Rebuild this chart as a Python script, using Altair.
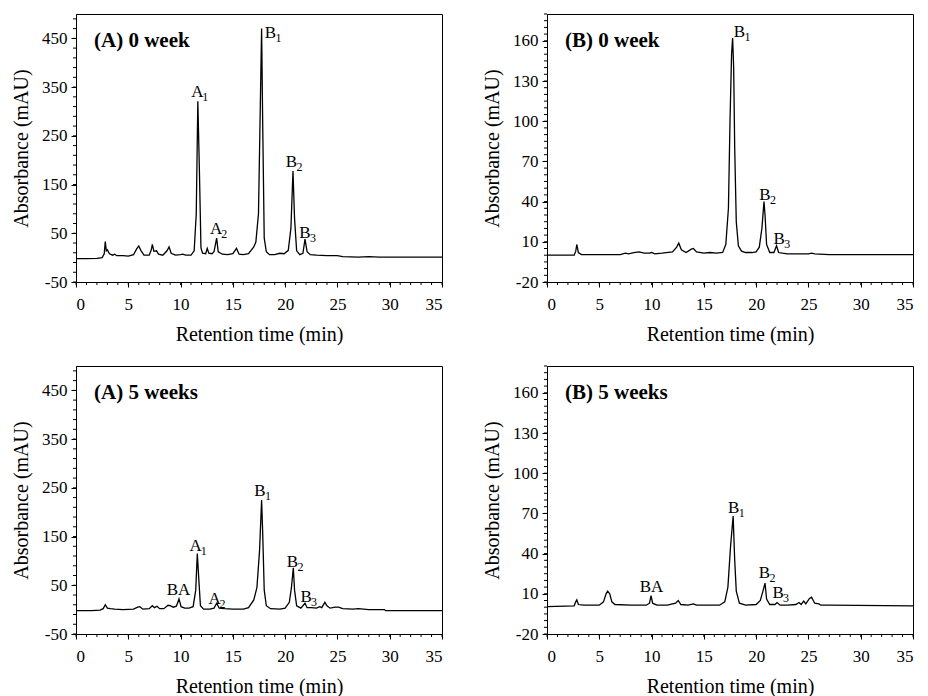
import altair as alt
import pandas as pd

# ---------------- data ----------------
a0_time = [0.0, 1.0, 2.0, 2.5, 2.7, 2.8, 2.9, 3.0, 3.2, 3.5, 3.7, 3.9, 4.5, 5.0, 5.5, 5.8, 6.0, 6.2, 6.5,
           7.0, 7.2, 7.3, 7.45, 7.7, 7.9, 8.3, 8.7, 8.9, 9.1, 9.5, 10.0, 10.2, 10.5, 11.0, 11.3, 11.5,
           11.65, 11.8, 11.95, 12.1, 12.4, 12.55, 12.7, 13.0, 13.2, 13.45, 13.6, 14.0, 14.5, 15.0, 15.35,
           15.6, 16.0, 16.5, 17.0, 17.2, 17.45, 17.6, 17.75, 17.85, 18.0, 18.2, 18.5, 19.0, 19.5, 19.9,
           20.3, 20.55, 20.75, 20.9, 21.1, 21.4, 21.7, 21.9, 22.1, 22.4, 23.0, 24.0, 25.0, 25.5, 27.0,
           28.0, 29.0, 31.0, 35.0]
a0_abs = [-2, -2, -1.5, 0, 8, 33, 14, 16, 8, 5, 7, 4, 4, 3, 6, 18, 24, 15, 5,
          5, 16, 27, 13, 14, 7, 5, 14, 22, 9, 5, 6, 7, 5, 5, 14, 90,
          321, 180, 20, 9, 8, 19, 9, 8, 12, 40, 12, 7, 6, 8, 19,
          7, 6, 8, 22, 32, 90, 280, 470, 280, 40, 12, 6, 6, 9, 8,
          15, 60, 178, 80, 14, 6, 9, 38, 12, 6, 5, 4, 4, 2, 1,
          2, 1, 1, 1]

b0_time = [0.0, 2.6, 2.75, 2.85, 3.0, 3.3, 5.0, 7.0, 7.5, 7.8, 8.3, 8.8, 9.3, 9.8, 10.0, 10.3, 11.0,
           12.0, 12.4, 12.6, 12.85, 13.3, 13.8, 14.0, 14.3, 15.0, 15.6, 16.2, 16.8, 17.1, 17.35, 17.5,
           17.65, 17.75, 17.85, 17.95, 18.1, 18.3, 18.6, 19.0, 19.6, 20.0, 20.3, 20.55, 20.75, 20.85,
           21.0, 21.3, 21.7, 21.95, 22.15, 22.5, 23.0, 24.0, 25.0, 25.3, 25.6, 27.0, 35.0]
b0_abs = [0, 0, 3, 8, 2, 0.5, 0.5, 0.5, 1.5, 1, 2, 2.5, 1.5, 1.5, 2, 1, 1.5,
          2.5, 6, 9, 4, 2, 4.5, 5, 2.5, 1.5, 2, 1.5, 2, 8, 35, 100,
          150, 162, 140, 80, 25, 7, 3, 2, 2, 2.5, 6, 20, 40, 30,
          8, 2, 2, 7, 2, 1.5, 1, 1, 1, 1.5, 1, 0.5, 0.5]

a5_time = [0.0, 1.5, 2.3, 2.6, 2.8, 3.0, 3.3, 3.7, 4.5, 5.5, 5.9, 6.1, 6.4, 7.0, 7.3, 7.5, 7.75, 8.0,
           8.4, 8.8, 9.0, 9.3, 9.6, 9.85, 10.05, 10.4, 10.8, 11.2, 11.45, 11.6, 11.75, 11.9, 12.2, 12.8,
           13.2, 13.45, 13.7, 14.2, 15.0, 16.0, 16.5, 17.0, 17.3, 17.55, 17.75, 17.85, 18.0, 18.2, 18.6,
           19.5, 20.0, 20.4, 20.6, 20.78, 20.9, 21.1, 21.5, 21.9, 22.1, 22.5, 23.0, 23.3, 23.5, 23.8,
           24.0, 24.3, 24.8, 25.1, 25.5, 26.5, 27.0, 28.0, 29.5, 29.6, 35.0]
a5_abs = [-2, -2, -1, 2, 10, 3, 2, 1, 0, 1, 5, 6, 1, 2, 8, 4, 7, 2,
          2, 9, 8, 5, 7, 22, 6, 3, 3, 6, 40, 115, 60, 8, 1, 1,
          3, 13, 3, 2, 1, 1, 4, 20, 45, 120, 225, 160, 40, 8, 2,
          1, 3, 15, 45, 86, 40, 8, 3, 13, 4, 4, 3, 6, 4, 15,
          8, 3, 5, 5, 2, 1, 2, 0, 0, -2, -2]

b5_time = [0.0, 2.6, 2.75, 2.85, 3.0, 3.5, 5.0, 5.4, 5.65, 5.8, 6.0, 6.2, 6.5, 8.0, 9.5, 9.8, 9.95,
           10.1, 10.5, 11.5, 12.3, 12.55, 12.8, 13.5, 14.0, 14.3, 15.5, 16.5, 17.0, 17.3, 17.55, 17.8,
           17.95, 18.1, 18.4, 19.0, 20.0, 20.4, 20.65, 20.85, 21.0, 21.3, 21.8, 22.0, 22.3, 23.0, 23.8,
           24.1, 24.3, 24.55, 24.75, 25.1, 25.3, 25.6, 26.0, 26.2, 27.0, 35.0]
b5_abs = [0.5, 1, 4, 5.5, 2, 1.5, 1.5, 4, 10, 12, 10, 4, 2, 1.5, 1.5, 3, 8.6,
          3, 1.5, 1.5, 3, 5, 2, 1.5, 2.5, 1.5, 1.5, 1.5, 4, 15, 45, 68,
          35, 12, 3, 1.5, 2, 5, 12, 18, 6, 2, 2, 3.5, 1.5, 1.5, 2,
          3.5, 2, 4.5, 2.5, 6.5, 7.5, 3, 2.5, 1.5, 1.5, 1]

# peak labels: letter, subscript, time, absorbance
a0_lab_text = ["A", "A", "B", "B", "B"]
a0_lab_sub = ["1", "2", "1", "2", "3"]
a0_lab_x = [11.6, 13.4, 18.6, 20.6, 21.9]
a0_lab_y = [330, 48, 450, 185, 40]

b0_lab_text = ["B", "B", "B"]
b0_lab_sub = ["1", "2", "3"]
b0_lab_x = [18.4, 20.85, 22.2]
b0_lab_y = [163, 41, 8.5]

a5_lab_text = ["BA", "A", "A", "B", "B", "B"]
a5_lab_sub = ["", "1", "2", "1", "2", "3"]
a5_lab_x = [9.8, 11.45, 13.25, 17.6, 20.7, 22.0]
a5_lab_y = [31, 120, 12, 233, 88, 15]

b5_lab_text = ["BA", "B", "B", "B"]
b5_lab_sub = ["", "1", "2", "3"]
b5_lab_x = [10.0, 17.85, 20.8, 22.1]
b5_lab_y = [11.6, 70, 22, 6.7]

x_major = [0, 5, 10, 15, 20, 25, 30, 35]
x_minor = list(range(0, 36))
ya_major = [-50, 50, 150, 250, 350, 450]
ya_minor = list(range(-50, 501, 20))
yb_major = [-20, 10, 40, 70, 100, 130, 160]
yb_minor = list(range(-20, 181, 5))

W, H = 366, 268
FONT = "Liberation Serif"


def panel(times, absb, lt, ls, lx, ly, title, ydom, ymaj, ymin):
    xs = alt.Scale(domain=[0, 35], nice=False, zero=False)
    ys = alt.Scale(domain=ydom, nice=False, zero=False)
    trace = pd.DataFrame({"t": times, "a": absb})
    labs = pd.DataFrame({"txt": lt, "sub": ls, "t": lx, "a": ly})

    common = dict(labelFont=FONT, labelFontSize=17, labelColor="black",
                  titleFont=FONT, titleFontSize=20, titleFontWeight="normal", titleColor="black",
                  domainColor="black", tickColor="black", tickSize=5, grid=False,
                  labelExpr="'' + datum.value")
    xa = alt.Axis(values=x_major, labelPadding=9, titlePadding=12, **common)
    ya = alt.Axis(values=ymaj, labelPadding=4, titlePadding=10, **common)
    XT, YT = "Retention time (min)", "Absorbance (mAU)"

    def X():
        return alt.X("t:Q", scale=xs, axis=xa, title=XT)

    def Y():
        return alt.Y("a:Q", scale=ys, axis=ya, title=YT)

    line = alt.Chart(trace).mark_line(color="black", strokeWidth=1.3).encode(x=X(), y=Y())
    xmin = alt.Chart(pd.DataFrame({"t": x_minor})).mark_rule(color="black", strokeWidth=1).encode(
        x=X(), y=alt.value(H), y2=alt.value(H + 3))
    ymn = alt.Chart(pd.DataFrame({"a": ymin})).mark_rule(color="black", strokeWidth=1).encode(
        y=Y(), x=alt.value(0), x2=alt.value(-3))
    main = alt.Chart(labs).mark_text(font=FONT, fontSize=17, color="black",
                                     align="center", baseline="alphabetic").encode(
        x=X(), y=Y(), text="txt:N")
    sub = alt.Chart(labs).mark_text(font=FONT, fontSize=12, color="black",
                                    align="left", baseline="alphabetic", dx=5, dy=4).encode(
        x=X(), y=Y(), text="sub:N")
    ttl = alt.Chart(pd.DataFrame({"s": [title]})).mark_text(
        font=FONT, fontSize=21, fontWeight="bold", color="black",
        align="left", baseline="alphabetic").encode(
        x=alt.value(18), y=alt.value(33), text="s:N")
    return alt.layer(line, xmin, ymn, main, sub, ttl).properties(width=W, height=H)


pa0 = panel(a0_time, a0_abs, a0_lab_text, a0_lab_sub, a0_lab_x, a0_lab_y,
            "(A) 0 week", [-50, 500], ya_major, ya_minor)
pb0 = panel(b0_time, b0_abs, b0_lab_text, b0_lab_sub, b0_lab_x, b0_lab_y,
            "(B) 0 week", [-20, 180], yb_major, yb_minor)
pa5 = panel(a5_time, a5_abs, a5_lab_text, a5_lab_sub, a5_lab_x, a5_lab_y,
            "(A) 5 weeks", [-50, 500], ya_major, ya_minor)
pb5 = panel(b5_time, b5_abs, b5_lab_text, b5_lab_sub, b5_lab_x, b5_lab_y,
            "(B) 5 weeks", [-20, 180], yb_major, yb_minor)

chart = alt.vconcat(
    alt.hconcat(pa0, pb0, spacing=36),
    alt.hconcat(pa5, pb5, spacing=36),
    spacing=20,
).configure(font=FONT).configure_axis(labelFont=FONT, titleFont=FONT).configure_view(
    stroke="black", strokeWidth=1).properties(
    background="white", padding={"left": 3, "top": 5, "right": 0, "bottom": 0})

chart.save("out.html", embed_options={"renderer": "svg", "actions": False})
